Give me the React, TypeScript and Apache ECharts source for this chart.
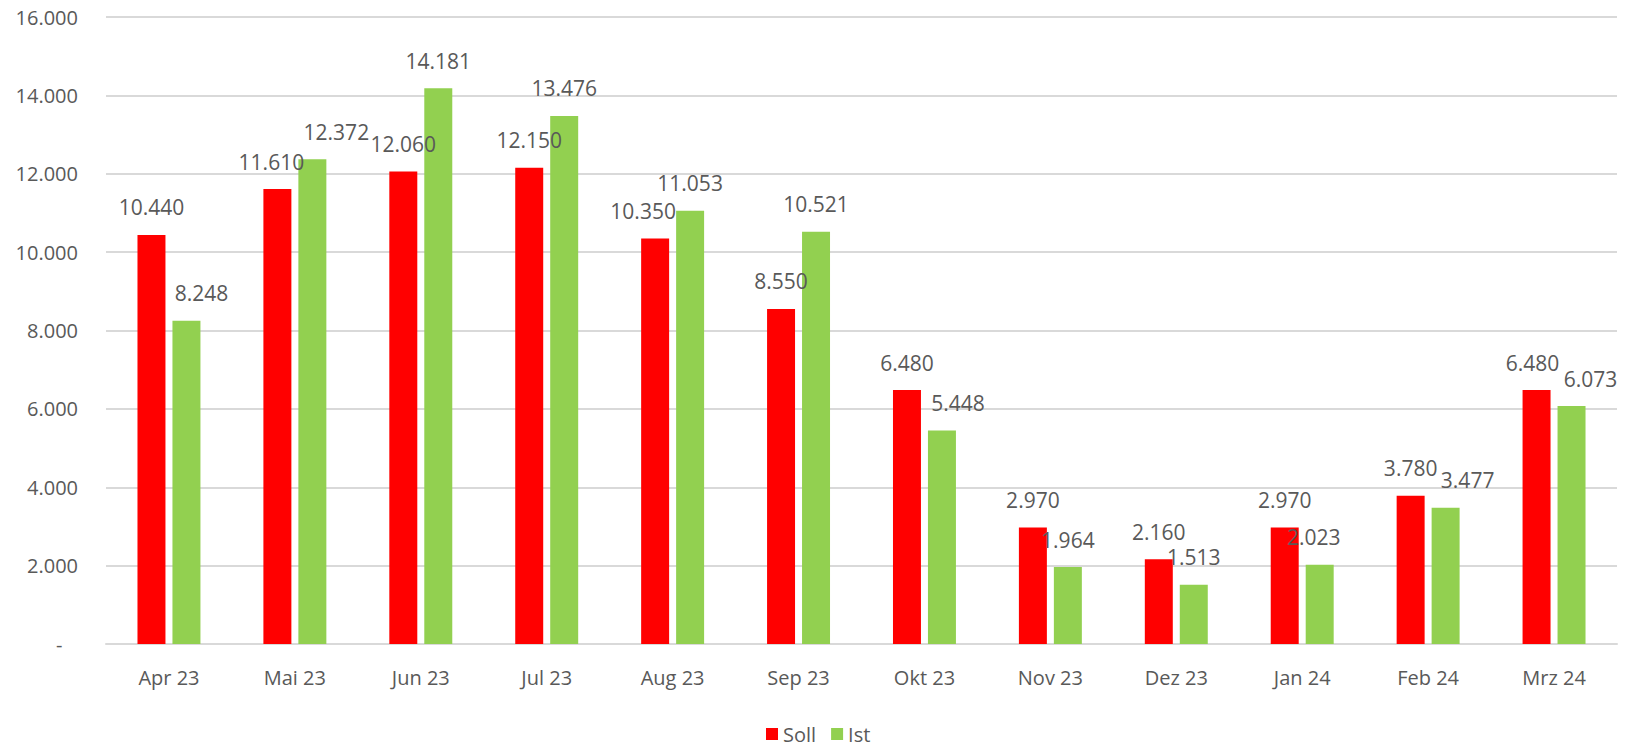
import React, { useEffect, useRef } from "react";
import * as echarts from "echarts";

const categories = ["Apr 23", "Mai 23", "Jun 23", "Jul 23", "Aug 23", "Sep 23", "Okt 23", "Nov 23", "Dez 23", "Jan 24", "Feb 24", "Mrz 24"];
const sollValues = [10440, 11610, 12060, 12150, 10350, 8550, 6480, 2970, 2160, 2970, 3780, 6480];
const istValues = [8248, 12372, 14181, 13476, 11053, 10521, 5448, 1964, 1513, 2023, 3477, 6073];
const seriesNames = ["Soll", "Ist"];

// horizontal nudges of the data labels (style only, as placed in the original)
const sollLabelShift = [0, -6, 0, 0, -12, 0, 0, 0, 0, 0, 0, -4];
const istLabelShift = [15, 24, 0, 0, 0, 0, 16, 0, 0, -6, 22, 19];

const fmt = (v: number) => Math.round(v).toString().replace(/\B(?=(\d{3})+(?!\d))/g, ".");

const FONT = "'Open Sans', 'Noto Sans', sans-serif";
const TEXT = "#595959";

export default function App() {
  const ref = useRef<HTMLDivElement>(null);
  useEffect(() => {
    if (!ref.current) return;
    const chart = echarts.init(ref.current, undefined, { renderer: "svg" });
    const labelCfg = {
      show: true,
      position: "top" as const,
      distance: 17,
      color: TEXT,
      fontSize: 21,
      fontFamily: FONT,
      formatter: (p: any) => fmt(p.value),
    };
    const withShift = (vals: number[], shifts: number[]) =>
      vals.map((v, i) => ({ value: v, label: { offset: [shifts[i], 0] } }));
    chart.setOption({
      animation: false,
      backgroundColor: "#ffffff",
      textStyle: { fontFamily: FONT },
      grid: { left: 106, right: 15, top: 17, bottom: 103, containLabel: false },
      legend: {
        left: 766,
        top: 724,
        padding: 0,
        itemWidth: 12,
        itemHeight: 12,
        itemGap: 15,
        icon: "rect",
        textStyle: { color: TEXT, fontSize: 20, lineHeight: 20, fontFamily: FONT },
        data: seriesNames,
      },
      xAxis: {
        type: "category",
        data: categories,
        axisLine: { show: true, lineStyle: { color: "#d9d9d9", width: 2 } },
        axisTick: { show: false },
        axisLabel: { color: TEXT, fontSize: 20, fontFamily: FONT, margin: 23 },
      },
      yAxis: {
        type: "value",
        min: 0,
        max: 16000,
        interval: 2000,
        axisLine: { show: false },
        axisTick: { show: false },
        splitLine: { show: true, lineStyle: { color: "#d9d9d9", width: 2 } },
        axisLabel: {
          color: TEXT,
          fontSize: 20,
          fontFamily: FONT,
          margin: 28,
          formatter: (v: number) => (v === 0 ? "-   " : fmt(v)),
        },
      },
      series: [
        {
          name: seriesNames[0],
          type: "bar",
          data: withShift(sollValues, sollLabelShift),
          itemStyle: { color: "#ff0000" },
          barGap: "25%",
          barCategoryGap: "50%",
          label: labelCfg,
        },
        {
          name: seriesNames[1],
          type: "bar",
          data: withShift(istValues, istLabelShift),
          itemStyle: { color: "#92d050" },
          barGap: "25%",
          barCategoryGap: "50%",
          label: labelCfg,
        },
      ],
    });
    return () => chart.dispose();
  }, []);
  return (
    <div
      ref={ref}
      style={{ position: "fixed", left: 0, top: 0, width: 1632, height: 747 }}
    />
  );
}
